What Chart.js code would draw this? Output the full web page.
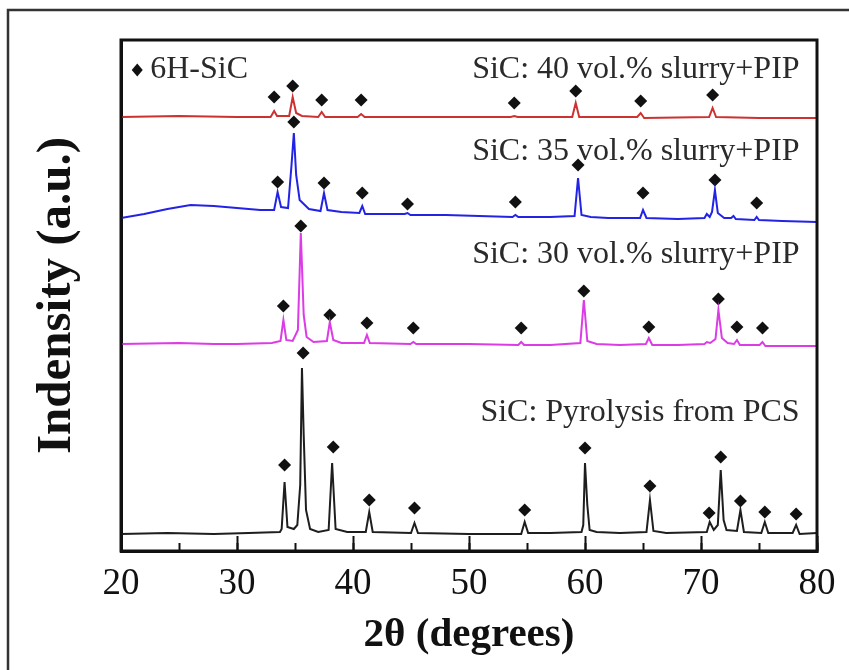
<!DOCTYPE html>
<html>
<head>
<meta charset="utf-8">
<script src="https://cdn.jsdelivr.net/npm/chart.js@4"></script>
<style>
  html, body { margin: 0; padding: 0; background: #fff; }
  #wrap { width: 849px; height: 670px; }
</style>
</head>
<body>
<div id="wrap"><canvas id="xrdChart" width="849" height="670"></canvas></div>
<script>
// XRD patterns, stacked with an offset (arbitrary units)
const pcsPattern = [
  [20, 11], [24, 12], [28, 11], [31, 12], [33.7, 13],
  [33.85, 16], [34.1, 63], [34.35, 18], [34.9, 16], [35.2, 20],
  [35.45, 60], [35.6, 177], [35.75, 110], [35.95, 35], [36.3, 16], [37, 13],
  [37.9, 15], [38.2, 82], [38.5, 16], [39.5, 13],
  [41.1, 13], [41.4, 33], [41.7, 13],
  [45.0, 12], [45.3, 22], [45.6, 12], [50, 11],
  [54.5, 11], [54.8, 23], [55.1, 12], [57, 12],
  [59.7, 13], [59.85, 20], [60.0, 82], [60.2, 40], [60.4, 15], [61, 13],
  [63, 12], [65.3, 13], [65.6, 45], [65.9, 14], [67, 12],
  [70.5, 13], [70.75, 23], [71.1, 15], [71.45, 20], [71.7, 75], [71.95, 25], [72.2, 15],
  [73.1, 14], [73.4, 35], [73.7, 13],
  [75.2, 12], [75.5, 23], [75.8, 12],
  [77.9, 12], [78.2, 20], [78.5, 11], [80, 12]
];
const vol30Pattern = [
  [20, 201], [25, 202], [28, 201], [30, 201], [33, 202],
  [33.75, 204], [34.0, 225], [34.25, 205], [34.8, 204],
  [35.25, 215], [35.5, 312], [35.75, 230], [36.0, 208], [36.6, 203],
  [37.75, 204], [38.0, 223], [38.3, 205], [39, 202],
  [40.95, 202], [41.2, 210], [41.45, 202],
  [44.95, 201], [45.2, 203], [45.45, 201], [50, 201],
  [54.25, 200], [54.5, 203], [54.75, 200], [57, 200],
  [59.6, 202], [59.9, 245], [60.2, 204], [61, 201],
  [63, 200], [65.25, 201], [65.5, 207], [65.8, 200], [68, 200],
  [70.3, 201], [70.5, 203], [70.8, 202], [71.25, 206], [71.5, 235], [71.8, 207], [72.3, 202],
  [72.85, 201], [73.1, 205], [73.35, 200],
  [75.05, 200], [75.3, 203], [75.55, 199], [78, 199], [80, 199]
];
const vol35Pattern = [
  [20, 327], [22, 331], [24, 336], [26, 340], [28, 339], [30, 337], [32, 335], [33.2, 335],
  [33.5, 353], [33.8, 338], [34.4, 337],
  [34.7, 380], [34.9, 412], [35.1, 370], [35.4, 345], [36.2, 336], [37.2, 334],
  [37.5, 352], [37.8, 335], [39, 333],
  [40.55, 332], [40.8, 339], [41.05, 331],
  [44.45, 331], [44.7, 332], [44.95, 330], [48, 330],
  [53.75, 328], [54.0, 330], [54.25, 328], [57, 328],
  [59.1, 329], [59.4, 367], [59.7, 330], [60.5, 328],
  [62, 327], [64.75, 327], [65.0, 335], [65.3, 327], [68, 326],
  [70.3, 327], [70.5, 331], [70.75, 328],
  [70.95, 333], [71.2, 355], [71.45, 332], [72, 327],
  [72.6, 327], [72.8, 329], [73.0, 326],
  [74.6, 325], [74.8, 328], [75.0, 325], [77, 324], [80, 323]
];
const vol40Pattern = [
  [20, 428], [25, 429], [30, 428], [32.9, 428], [33.2, 434], [33.45, 429],
  [34.5, 429], [34.8, 448], [35.1, 432], [35.6, 429],
  [37.0, 428], [37.3, 433], [37.6, 428],
  [40.4, 428], [40.7, 431], [41.0, 428], [45, 428], [50, 428],
  [53.6, 428], [53.9, 429], [54.2, 428],
  [58.9, 428], [59.2, 442], [59.5, 428],
  [64.5, 428], [64.8, 432], [65.1, 427],
  [70.7, 428], [71.0, 437], [71.3, 428], [75, 427], [80, 427]
];

// 6H-SiC peak markers (diamonds) for each pattern
const pcsMarks = [[34.1, 80], [35.7, 192], [38.3, 98], [41.4, 45], [45.3, 37], [54.8, 35], [60.0, 97],
  [65.6, 59], [70.7, 32], [71.7, 88], [73.4, 44], [75.5, 33], [78.2, 31]];
const vol30Marks = [[34.0, 239], [35.5, 319], [38.0, 230], [41.2, 222], [45.2, 217], [54.5, 217],
  [59.9, 254], [65.5, 218], [71.5, 246], [73.1, 218], [75.3, 217]];
const vol35Marks = [[33.5, 363], [34.9, 423], [37.5, 362], [40.8, 352], [44.7, 341], [54.0, 343],
  [59.4, 380], [65.0, 352], [71.2, 365], [74.8, 342]];
const vol40Marks = [[33.2, 448], [34.8, 459], [37.3, 445], [40.7, 445], [53.9, 442], [59.2, 454],
  [64.8, 444], [71.0, 450]];

const seriesNames = ['SiC: Pyrolysis from PCS', 'SiC: 30 vol.% slurry+PIP', 'SiC: 35 vol.% slurry+PIP', 'SiC: 40 vol.% slurry+PIP'];
const seriesColors = ['#1e1e1e', '#dc3ce6', '#2323e6', '#cd3232'];
const xTicks = [20, 30, 40, 50, 60, 70, 80];

const serif = "'Liberation Serif', 'Times New Roman', serif";

function toPoints(arr) {
  return arr.map(p => ({ x: p[0], y: p[1] }));
}

const patterns = [pcsPattern, vol30Pattern, vol35Pattern, vol40Pattern];
const marks = [pcsMarks, vol30Marks, vol35Marks, vol40Marks];

const datasets = [];
patterns.forEach((pat, i) => {
  datasets.push({
    label: seriesNames[i],
    data: toPoints(pat),
    borderColor: seriesColors[i],
    borderWidth: 2,
    pointRadius: 0,
    tension: 0,
    fill: false
  });
});
marks.forEach((m, i) => {
  datasets.push({
    label: seriesNames[i] + ' 6H-SiC',
    data: toPoints(m),
    showLine: false,
    pointStyle: 'rectRot',
    pointRadius: 6.5,
    pointBackgroundColor: '#111',
    pointBorderColor: '#111',
    pointBorderWidth: 0
  });
});

// text labels placed in data units
const labelSpots = [
  { text: seriesNames[3], x: 78.5, y: 475 },
  { text: seriesNames[2], x: 78.5, y: 393 },
  { text: seriesNames[1], x: 78.5, y: 290 },
  { text: seriesNames[0], x: 78.5, y: 132 }
];

const decorPlugin = {
  id: 'decor',
  beforeDraw(chart) {
    const ctx = chart.ctx;
    ctx.save();
    ctx.fillStyle = '#fff';
    ctx.fillRect(0, 0, chart.width, chart.height);
    ctx.restore();
  },
  afterDraw(chart) {
    const ctx = chart.ctx;
    const area = chart.chartArea;
    const xs = chart.scales.x, ys = chart.scales.y;
    ctx.save();
    // outer picture frame
    ctx.strokeStyle = '#333';
    ctx.lineWidth = 2.5;
    ctx.strokeRect(8, 10, chart.width + 10, chart.height + 10);
    // plot box
    ctx.strokeStyle = '#111';
    ctx.lineWidth = 3;
    ctx.strokeRect(area.left, area.top, area.right - area.left, area.bottom - area.top);

    ctx.fillStyle = '#2a2a2a';
    ctx.font = '32px ' + serif;
    ctx.textBaseline = 'middle';
    ctx.textAlign = 'right';
    labelSpots.forEach(l => {
      ctx.fillText(l.text, xs.getPixelForValue(l.x), ys.getPixelForValue(l.y));
    });

    // legend: diamond + 6H-SiC
    const lx = xs.getPixelForValue(21.4), ly = ys.getPixelForValue(475);
    ctx.fillStyle = '#111';
    ctx.beginPath();
    ctx.moveTo(lx, ly - 6.5);
    ctx.lineTo(lx + 5.5, ly);
    ctx.lineTo(lx, ly + 6.5);
    ctx.lineTo(lx - 5.5, ly);
    ctx.closePath();
    ctx.fill();
    ctx.fillStyle = '#2a2a2a';
    ctx.textAlign = 'left';
    ctx.fillText('6H-SiC', lx + 13, ly);
    ctx.restore();
  }
};

const ctx = document.getElementById('xrdChart').getContext('2d');
const xrdChart = new Chart(ctx, {
  type: 'line',
  data: { datasets: datasets },
  options: {
    responsive: false,
    animation: false,
    devicePixelRatio: 1,
    layout: { padding: { top: 40, right: 0, left: 0, bottom: 0 } },
    plugins: {
      legend: { display: false },
      tooltip: { enabled: false }
    },
    scales: {
      x: {
        type: 'linear',
        position: 'bottom',
        min: 20,
        max: 80,
        afterBuildTicks: scale => { scale.ticks = xTicks.map(v => ({ value: v })); },
        afterFit: scale => { scale.height = 119; scale.paddingRight = 32; },
        ticks: {
          color: '#111',
          padding: 26,
          maxRotation: 0,
          font: { family: serif, size: 37 }
        },
        grid: { drawOnChartArea: false, tickLength: -15, tickWidth: 2, tickColor: '#111' },
        border: { color: '#111', width: 3 },
        title: {
          display: true,
          text: '2θ (degrees)',
          color: '#111',
          padding: 10,
          font: { family: serif, size: 41, weight: 'bold' }
        }
      },
      // minor ticks every 5 degrees, sitting on the bottom edge of the plot
      x2: {
        type: 'linear',
        position: { y: -6 },
        min: 20,
        max: 80,
        ticks: { display: false, stepSize: 5 },
        grid: { drawOnChartArea: false, tickLength: -8, tickWidth: 2, tickColor: '#111' },
        border: { display: false }
      },
      y: {
        min: -6,
        max: 505,
        afterFit: scale => { scale.width = 121; },
        ticks: { display: false },
        grid: { display: false },
        border: { color: '#111', width: 3 },
        title: {
          display: true,
          text: 'Indensity (a.u.)',
          color: '#111',
          padding: 28,
          font: { family: serif, size: 49, weight: 'bold' }
        }
      }
    }
  },
  plugins: [decorPlugin]
});
</script>
</body>
</html>
